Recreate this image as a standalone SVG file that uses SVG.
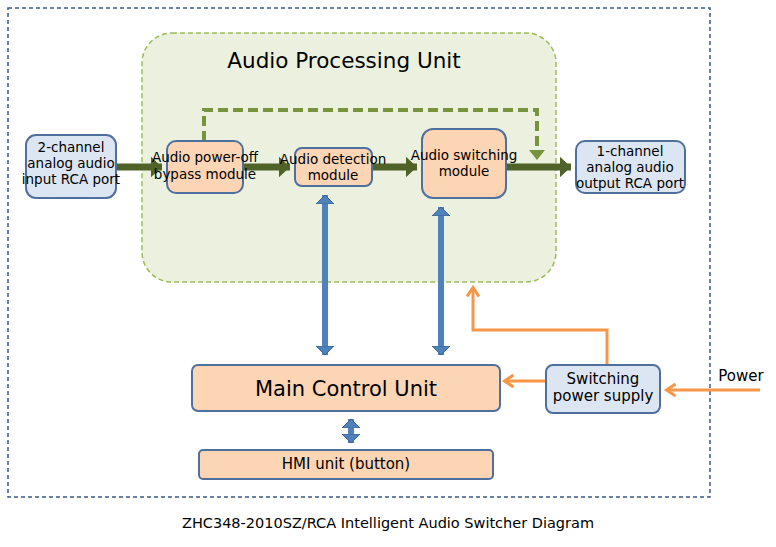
<svg xmlns="http://www.w3.org/2000/svg" width="776" height="547" viewBox="0 0 776 547">
<style>
text{font-family:"DejaVu Sans",Verdana,sans-serif;fill:#000;text-anchor:middle}
.t{font-size:13.5px}
.blue{fill:#dce6f2;stroke:#4f6f9f;stroke-width:2}
.or{fill:#fcd5b5;stroke:#4f6f9f;stroke-width:2}
.g{stroke:#4f6228;stroke-width:7;fill:none}
.bl{stroke:#4f81bd;stroke-width:6;fill:none}
.o{stroke:#f79646;stroke-width:3;fill:none}
</style>
<defs>
<marker id="ga" markerWidth="4" markerHeight="4" refX="1.6" refY="2" orient="auto" markerUnits="strokeWidth"><path d="M0,0.5L1.6,2L0,3.5z" fill="#4f6228"/></marker>
<marker id="gd" markerWidth="4" markerHeight="4" refX="2" refY="2" orient="auto" markerUnits="strokeWidth"><path d="M0,0L2.5,2L0,4z" fill="#77933c"/></marker>
<marker id="ba" markerWidth="3" markerHeight="3" refX="1.5" refY="1.5" orient="auto-start-reverse" markerUnits="strokeWidth"><path d="M0,0L1.5,1.5L0,3z" fill="#4f81bd" stroke="#385d8a" stroke-width="0.15"/></marker>
<marker id="oa" markerWidth="5" markerHeight="5" refX="2.5" refY="2.5" orient="auto" markerUnits="strokeWidth"><path d="M0,0.5L3,2.5L0,4.5" fill="none" stroke="#f79646" stroke-width="1"/></marker>
</defs>
<rect x="8" y="8" width="702" height="489" fill="none" stroke="#3a5a8c" stroke-width="1.5" stroke-dasharray="4,3"/>
<g id="apu"><rect x="142" y="33" width="414" height="249" rx="30" fill="#ebf1de" stroke="#9bbb59" stroke-width="1.5" stroke-dasharray="5,3"/>
<text x="344" y="68" style="font-size:21.5px">Audio Processing Unit</text></g>
<g id="connectors">
<line class="g" x1="116" y1="167" x2="162" y2="167" marker-end="url(#ga)"/>
<line class="g" x1="243" y1="167" x2="290" y2="167" marker-end="url(#ga)"/>
<line class="g" x1="372" y1="167" x2="417" y2="167" marker-end="url(#ga)"/>
<line class="g" x1="506" y1="167" x2="571" y2="167" marker-end="url(#ga)"/>
<path d="M204,141V110H537V158" fill="none" stroke="#77933c" stroke-width="4" stroke-dasharray="10,5" marker-end="url(#gd)"/>
<line class="bl" x1="325" y1="195" x2="325" y2="355" marker-start="url(#ba)" marker-end="url(#ba)"/>
<line class="bl" x1="441" y1="207" x2="441" y2="355" marker-start="url(#ba)" marker-end="url(#ba)"/>
<line class="bl" x1="351" y1="419" x2="351" y2="443" marker-start="url(#ba)" marker-end="url(#ba)"/>
<line class="o" x1="760" y1="390" x2="668" y2="390" marker-end="url(#oa)"/>
<line class="o" x1="546" y1="381" x2="506" y2="381" marker-end="url(#oa)"/>
<path class="o" d="M607,364V330H473V289" marker-end="url(#oa)"/>
</g>
<g id="in"><rect class="blue" x="26" y="135" width="90" height="63" rx="10"/><text class="t" x="71" y="152">2-channel</text><text class="t" x="71" y="168">analog audio</text><text class="t" x="71" y="184">input RCA port</text></g>
<g id="bypass"><rect class="or" x="167" y="141" width="76" height="52" rx="9"/><text class="t" x="205" y="162">Audio power-off</text><text class="t" x="205" y="179">bypass module</text></g>
<g id="detect"><rect class="or" x="295" y="148" width="77" height="38" rx="7"/><text class="t" x="333" y="164">Audio detection</text><text class="t" x="333" y="180">module</text></g>
<g id="switch"><rect class="or" x="422" y="129" width="84" height="69" rx="11"/><text class="t" x="464" y="160">Audio switching</text><text class="t" x="464" y="176">module</text></g>
<g id="out"><rect class="blue" x="576" y="141" width="109" height="52" rx="9"/><text class="t" x="630" y="156">1-channel</text><text class="t" x="630" y="172">analog audio</text><text class="t" x="630" y="188">output RCA port</text></g>
<g id="mcu"><rect class="or" x="192" y="365" width="308" height="46" rx="6"/><text x="346" y="396" style="font-size:21px">Main Control Unit</text></g>
<g id="hmi"><rect class="or" x="199" y="450" width="294" height="29" rx="4"/><text x="346" y="469" style="font-size:15px">HMI unit (button)</text></g>
<g id="psu"><rect class="blue" x="546" y="365" width="114" height="48" rx="7"/><text x="603" y="384" style="font-size:15px">Switching</text><text x="603" y="401" style="font-size:15px">power supply</text></g>
<text x="741" y="381" style="font-size:15px">Power</text>
<text x="388" y="528" style="font-size:14.5px">ZHC348-2010SZ/RCA Intelligent Audio Switcher Diagram</text>
</svg>
